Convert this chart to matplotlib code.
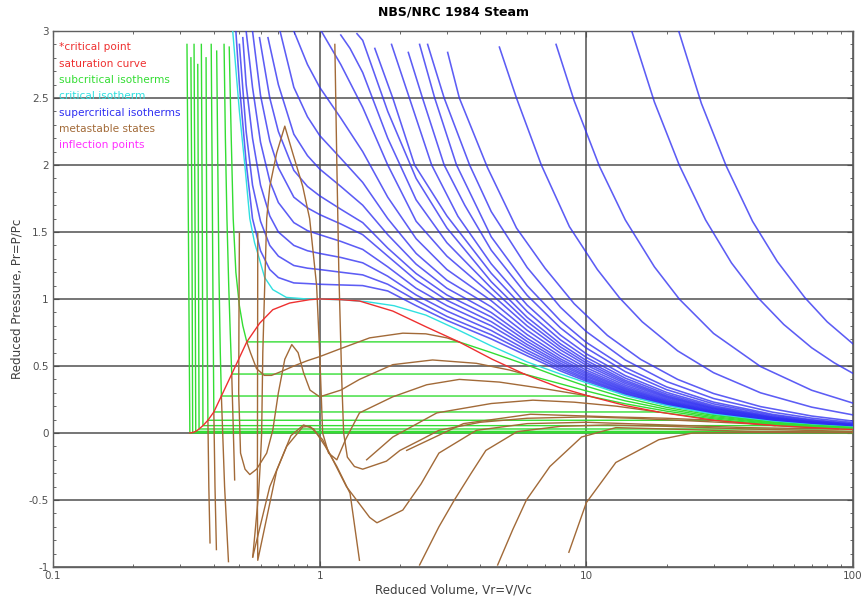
import numpy as np
import matplotlib
matplotlib.use("Agg")
import matplotlib.pyplot as plt

plt.rcParams['font.family'] = ['DejaVu Sans']

# ---------------- supercritical isotherms (reduced volume, reduced pressure) ----------------
sup_v = [
    [0.485,0.5,0.53,0.56,0.6,0.65,0.7,0.8,0.9,1.0,1.2,1.45,1.8,2.3,3.0,4.4,6,8,10,14,20,30,50,70,100],
    [0.5,0.53,0.56,0.6,0.65,0.7,0.8,0.9,1.0,1.2,1.45,1.8,2.3,3.0,4.4,6,8,10,14,20,30,50,70,100],
    [0.515,0.53,0.56,0.6,0.65,0.7,0.8,0.9,1.0,1.2,1.45,1.8,2.3,3.0,4.4,6,8,10,14,20,30,50,70,100],
    [0.53,0.56,0.6,0.65,0.7,0.8,0.9,1.0,1.2,1.45,1.8,2.3,3.0,4.4,6,8,10,14,20,30,50,70,100],
    [0.56,0.6,0.65,0.7,0.8,0.9,1.0,1.2,1.45,1.8,2.3,3.0,4.4,6,8,10,14,20,30,50,70,100],
    [0.595,0.65,0.7,0.8,0.9,1.0,1.2,1.45,1.8,2.3,3.0,4.4,6,8,10,14,20,30,50,70,100],
    [0.64,0.7,0.8,0.9,1.0,1.2,1.45,1.8,2.3,3.0,4.4,6,8,10,14,20,30,50,70,100],
    [0.7,0.8,0.9,1.0,1.2,1.45,1.8,2.3,3.0,4.4,6,8,10,14,20,30,50,70,100],
    [0.8,0.9,1.0,1.2,1.45,1.8,2.3,3.0,4.4,6,8,10,14,20,30,50,70,100],
    [0.98,1.2,1.45,1.8,2.3,3.0,4.4,6,8,10,14,20,30,50,70,100],
    [1.2,1.3,1.45,1.8,2.3,3.0,4.4,6,8,10,14,20,30,50,70,100],
    [1.38,1.45,1.8,2.3,3.0,4.4,6,8,10,14,20,30,50,70,100],
    [1.61,1.88,2.27,3.0,4.4,6,8,10,14,20,30,50,70,100],
    [1.86,2.17,2.63,3.3,4.4,6,8,10,14,20,30,50,70,100],
    [2.15,2.43,2.93,3.5,4.4,6,8,10,14,20,30,50,70,100],
    [2.37,2.7,3.26,4.4,6,8,10,14,20,30,50,70,100],
    [2.54,2.93,3.65,4.4,6,8,10,14,20,30,50,70,100],
    [3.02,3.34,4.26,5.47,7,9,12,16,22,30,45,70,100],
    [4.72,5.47,6.78,8.64,11,13.3,16.2,22,30,45,70,100],
    [7.7,9,11.2,14,18,22.3,30,45,70,100],
    [14.8,18,22.3,28,35,44,55,70,85,100],
    [22.2,27,33.5,42,52,66,80,100],
]
sup_p = [
    [3.0,2.6,2.02,1.6,1.36,1.22,1.16,1.12,1.115,1.11,1.105,1.10,1.06,0.95,0.84,0.702,0.576,0.463,0.386,0.288,0.208,0.142,0.0868,0.0625,0.044],
    [2.9,2.25,1.85,1.58,1.40,1.32,1.25,1.23,1.22,1.20,1.18,1.11,0.99,0.87,0.733,0.597,0.478,0.397,0.295,0.213,0.145,0.0887,0.0638,0.0449],
    [2.95,2.6,2.2,1.85,1.62,1.50,1.40,1.36,1.34,1.31,1.27,1.17,1.03,0.91,0.765,0.617,0.492,0.407,0.302,0.218,0.148,0.0904,0.065,0.0457],
    [3.0,2.58,2.17,1.88,1.72,1.57,1.51,1.48,1.43,1.37,1.24,1.08,0.95,0.80,0.64,0.507,0.419,0.31,0.223,0.151,0.0923,0.0663,0.0467],
    [3.0,2.52,2.18,1.98,1.76,1.68,1.63,1.56,1.48,1.32,1.14,0.99,0.831,0.66,0.521,0.43,0.317,0.227,0.154,0.094,0.0676,0.0475],
    [2.95,2.5,2.25,1.96,1.84,1.77,1.67,1.57,1.38,1.19,1.03,0.866,0.683,0.537,0.442,0.3255,0.233,0.158,0.0961,0.069,0.0485],
    [2.95,2.6,2.23,2.07,1.97,1.84,1.70,1.48,1.26,1.08,0.899,0.706,0.553,0.454,0.334,0.2385,0.1616,0.0982,0.0705,0.0495],
    [3.05,2.58,2.36,2.22,2.05,1.87,1.60,1.34,1.14,0.941,0.734,0.573,0.469,0.344,0.2456,0.1662,0.1009,0.0724,0.0509],
    [3.0,2.75,2.58,2.35,2.10,1.76,1.45,1.22,0.987,0.766,0.596,0.487,0.356,0.2537,0.1714,0.104,0.0746,0.0524],
    [3.05,2.75,2.43,2.0,1.58,1.32,1.036,0.799,0.62,0.506,0.369,0.2627,0.1773,0.1074,0.0771,0.0541],
    [2.97,2.87,2.69,2.2,1.74,1.42,1.082,0.831,0.642,0.523,0.381,0.2708,0.1826,0.1105,0.0792,0.0556],
    [2.98,2.93,2.4,1.90,1.53,1.129,0.863,0.665,0.541,0.393,0.2789,0.1878,0.1136,0.0814,0.0572],
    [2.87,2.5,2.0,1.62,1.192,0.906,0.695,0.564,0.409,0.2898,0.1949,0.1178,0.0844,0.0592],
    [2.9,2.5,2.0,1.617,1.262,0.954,0.73,0.591,0.428,0.3029,0.2035,0.1229,0.088,0.0617],
    [2.84,2.5,2.0,1.70,1.364,1.027,0.784,0.634,0.458,0.3234,0.2171,0.1309,0.0937,0.0657],
    [2.9,2.5,2.0,1.464,1.099,0.837,0.676,0.488,0.344,0.2306,0.139,0.0995,0.0698],
    [2.9,2.5,2.0,1.652,1.235,0.938,0.757,0.545,0.384,0.2574,0.1551,0.1109,0.0778],
    [2.84,2.5,1.98,1.53,1.23,0.965,0.728,0.549,0.40,0.2945,0.197,0.1267,0.0888],
    [2.88,2.5,2.0,1.54,1.22,1.01,0.83,0.613,0.45,0.30,0.193,0.135],
    [2.9,2.48,1.99,1.59,1.24,1.0,0.743,0.496,0.319,0.223],
    [3.0,2.47,2.0,1.59,1.27,1.01,0.81,0.636,0.524,0.445],
    [3.0,2.46,1.99,1.58,1.28,1.01,0.83,0.665],
]

# ---------------- critical isotherm ----------------
crit_v = [0.472,0.50,0.524,0.547,0.57,0.586,0.622,0.667,0.75,0.9,1.2,1.5,1.9,2.5,3.3,4.4,6,8,10,14,20,30,50,70,100]
crit_p = [3.0,2.4,2.0,1.6,1.42,1.34,1.16,1.07,1.012,1.0,0.995,0.98,0.95,0.88,0.77,0.65,0.53,0.44,0.375,0.28,0.205,0.14,0.086,0.062,0.044]

# ---------------- subcritical isotherms: liquid branch, tie line, vapour branch ----------------
sub_v = [
    [0.458,0.466,0.474,0.485,0.50,0.515,0.533,3.33,4.4,6,8,10,14,20,30,50,70,100],
    [0.438,0.443,0.449,0.456,0.462,0.468,5.85,8,10,14,20,30,50,70,100],
    [0.411,0.415,0.419,0.424,0.428,10.2,14,20,30,50,70,100],
    [0.392,0.395,0.398,0.401,18.6,25,35,50,70,100],
    [0.375,0.377,0.381,30,40,55,75,100],
    [0.36,0.363,0.365,51,70,100],
    [0.349,0.351,0.353,88,100],
    [0.338,0.341,0.343,100],
    [0.329,0.332,0.334,100],
    [0.318,0.322,0.326,100],
]
sub_p = [
    [2.88,2.2,1.6,1.2,0.95,0.8,0.68,0.68,0.6,0.507,0.415,0.349,0.262,0.191,0.131,0.0803,0.0579,0.0408],
    [2.9,2.2,1.6,1.1,0.75,0.44,0.44,0.367,0.314,0.24,0.177,0.122,0.0755,0.0545,0.0385],
    [2.85,2.0,1.2,0.6,0.276,0.276,0.218,0.163,0.1135,0.0706,0.0511,0.0362],
    [2.9,2.0,1.0,0.157,0.157,0.123,0.0912,0.0657,0.0478,0.0339],
    [2.8,1.5,0.095,0.095,0.074,0.0554,0.0415,0.0315],
    [2.9,1.5,0.055,0.055,0.0407,0.0291],
    [2.75,1.5,0.03,0.03,0.0267],
    [2.9,1.5,0.012,0.012],
    [2.8,1.5,0.004,0.004],
    [2.9,1.5,0.001,0.001],
]

# ---------------- saturation curve ----------------
sat_v = [0.326,0.334,0.343,0.353,0.365,0.381,0.401,0.428,0.468,0.533,0.596,0.667,0.772,0.917,1.0,
         1.2,1.41,1.88,2.52,3.33,4.44,5.85,7.9,10.2,14,18.6,30,51,88,100]
sat_p = [0.001,0.004,0.012,0.03,0.055,0.095,0.157,0.276,0.44,0.68,0.82,0.92,0.97,0.995,1.0,
         0.995,0.985,0.91,0.79,0.68,0.55,0.44,0.34,0.276,0.205,0.157,0.095,0.055,0.03,0.0265]

# ---------------- metastable states ----------------
meta_v = [
    [0.533,0.55,0.58,0.62,0.66,0.72,0.8,0.9,1.0,1.2,1.54,2.05,2.5,3.0,3.33],
    [0.468,0.474,0.48],
    [0.50,0.498,0.497,0.505,0.525,0.547,0.58,0.633,0.667,0.7,0.74,0.786,0.83,0.87,0.92,1.0,1.2,1.41,1.88,2.65,3.87,5.15,5.85],
    [0.428,0.44,0.455],
    [0.561,0.575,0.59,0.6,0.606,0.612,0.622,0.633,0.65,0.69,0.74,0.792,0.864,0.917,0.974,1.0,1.026,1.08,1.16,1.25,1.41,1.88,2.52,3.34,4.72,7.0,10.2],
    [0.561,0.65,0.752,0.864,0.92,1.026,1.26,1.54,1.64,2.05,2.4,2.8,3.87,6,10,20,40,88],
    [1.14,1.16,1.18,1.21,1.23,1.27,1.35,1.45,1.78,2.0,2.4,2.8,4.0,6.0,10,15,25,40,51],
    [0.401,0.405,0.41],
    [0.586,0.585,0.584,0.586,0.69,0.78,0.87,0.95,1.05,1.16,1.3,1.41],
    [0.381,0.384,0.388],
    [1.5,1.88,2.75,4.4,6.3,9,13,18.6],
    [2.12,3.46,6.17,12.7,20,30],
    [2.37,2.8,3.2,3.7,4.2,5.5,8,12,20,40,100],
    [4.65,5.3,5.96,7.3,9.6,12.9,20,40,100],
    [8.6,10,12.9,18.7,25,40,100],
]
meta_p = [
    [0.68,0.6,0.48,0.43,0.43,0.46,0.5,0.54,0.57,0.63,0.71,0.745,0.74,0.71,0.68],
    [0.44,0.05,-0.35],
    [1.49,0.8,0.3,-0.15,-0.27,-0.31,-0.27,-0.15,0.02,0.3,0.55,0.66,0.6,0.45,0.32,0.27,0.32,0.40,0.51,0.545,0.52,0.47,0.44],
    [0.276,-0.4,-0.96],
    [-0.925,-0.7,-0.45,-0.2,0.0,0.6,1.09,1.6,1.84,2.09,2.29,2.09,1.84,1.6,1.1,0.6,0.0,-0.15,-0.2,-0.05,0.15,0.27,0.36,0.40,0.38,0.33,0.276],
    [-0.925,-0.4,-0.1,0.045,0.05,-0.05,-0.4,-0.63,-0.67,-0.575,-0.38,-0.15,0.02,0.07,0.08,0.06,0.04,0.03],
    [2.9,2.0,1.2,0.4,0.0,-0.18,-0.25,-0.27,-0.21,-0.13,-0.05,0.02,0.08,0.11,0.12,0.11,0.09,0.07,0.055],
    [0.157,-0.4,-0.87],
    [1.49,0.5,-0.5,-0.95,-0.28,-0.02,0.06,0.03,-0.1,-0.25,-0.45,-0.95],
    [0.095,-0.4,-0.82],
    [-0.2,-0.03,0.15,0.22,0.245,0.23,0.2,0.157],
    [-0.13,0.07,0.14,0.12,0.11,0.095],
    [-0.985,-0.7,-0.5,-0.3,-0.13,0.01,0.05,0.06,0.05,0.03,0.012],
    [-0.985,-0.72,-0.5,-0.25,-0.03,0.04,0.03,0.013,0.005],
    [-0.89,-0.52,-0.22,-0.05,0.0,0.005,0.002],
]

legend_labels = ["*critical point", "saturation curve", "subcritical isotherms", "critical isotherm",
                 "supercritical isotherms", "metastable states", "inflection points"]

C_RED = "#ee3030"
C_GREEN = "#33dd33"
C_CYAN = "#30e0e0"
C_BLUE = "#2f2ff2"
C_BROWN = "#a26a38"
C_MAGENTA = "#ff30ff"
legend_colors = [C_RED, C_RED, C_GREEN, C_CYAN, C_BLUE, C_BROWN, C_MAGENTA]

fig = plt.figure(figsize=(8.67, 5.97), dpi=100)
ax = fig.add_axes([53/867, 30/597, 800/867, 536/597])
ax.set_xscale('log')
ax.set_xlim(0.1, 100)
ax.set_ylim(-1, 3)

lw = 1.0
for v, p in zip(sup_v, sup_p):
    ax.plot(v, p, color=C_BLUE, lw=1.15, alpha=0.78, zorder=3)
ax.plot(crit_v, crit_p, color=C_CYAN, lw=lw, zorder=4)
for v, p in zip(sub_v, sub_p):
    ax.plot(v, p, color=C_GREEN, lw=lw, zorder=4)
for v, p in zip(meta_v, meta_p):
    ax.plot(v, p, color=C_BROWN, lw=lw, zorder=5)
ax.plot(sat_v, sat_p, color=C_RED, lw=lw, zorder=6)

# grid and ticks
ax.set_yticks(np.arange(-1, 3.01, 0.5))
ax.set_yticklabels(["-1", "-0.5", "0", "0.5", "1", "1.5", "2", "2.5", "3"])
ax.set_yticks(np.arange(-1, 3.01, 0.1), minor=True)
ax.set_xticks([0.1, 1, 10, 100])
ax.set_xticklabels(["0.1", "1", "10", "100"])
ax.grid(True, which='major', color='#505050', lw=1.1, zorder=1)
ax.tick_params(which='both', direction='in', top=True, right=True, colors='#505050',
               labelcolor='#505050', labelsize=7.5)
ax.tick_params(which='major', length=4, pad=3)
ax.tick_params(which='minor', length=2.5)
for s in ax.spines.values():
    s.set_color('#606060')
    s.set_linewidth(1.0)

ax.set_xlabel("Reduced Volume, Vr=V/Vc", fontsize=8.6, color='#404040', labelpad=2)
ax.set_ylabel("Reduced Pressure, Pr=P/Pc", fontsize=8.6, color='#404040', labelpad=4)
ax.set_title("NBS/NRC 1984 Steam", fontsize=9, fontweight='bold', pad=11)

for i, (lab, col) in enumerate(zip(legend_labels, legend_colors)):
    ax.text(0.008, 0.979 - i * 0.0305, lab, transform=ax.transAxes, color=col,
            fontsize=7.6, va='top', ha='left', zorder=7)

fig.savefig("out.png", dpi=100)
